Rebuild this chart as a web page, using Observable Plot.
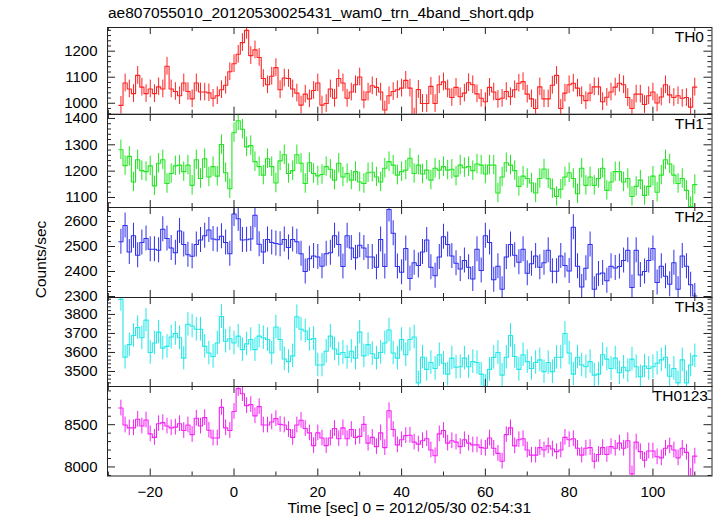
<!DOCTYPE html>
<html><head><meta charset="utf-8">
<script src="https://cdn.jsdelivr.net/npm/d3@7"></script>
<script src="https://cdn.jsdelivr.net/npm/@observablehq/plot@0.6"></script>
<style>
body{margin:0;background:#fff;font-family:"Liberation Sans",Arial,sans-serif;}
#wrap{position:relative;width:717px;height:516px;overflow:hidden;background:#fff;}
.txt{position:absolute;white-space:nowrap;color:#000;font-size:15.5px;line-height:15px;}
.panel{position:absolute;left:0;}
</style></head><body><div id="wrap"></div>
<script>
const title = "ae807055010_20120530025431_wam0_trn_4band_short.qdp";
const xLabel = "Time [sec] 0 = 2012/05/30 02:54:31";
const yLabel = "Counts/sec";
const bands = ["TH0", "TH1", "TH2", "TH3", "TH0123"];
const tStart = -27, binWidth = 1;

const th0 = [
992,1078,1055,1037,1107,1062,1037,1055,1037,1063,
1055,1142,1055,1045,1029,1078,1045,1017,1078,1043,
1043,1040,1019,1029,1052,1069,1121,1152,1188,1233,
1280,1183,1205,1176,1095,1071,1104,1137,1052,1097,
1095,1055,1039,993,1035,1017,1049,1078,993,999,
1055,1019,1095,1078,1019,1043,1071,1101,1013,1043,
1067,1061,1043,974,1029,1045,1052,1058,1088,1058,
947,1053,999,999,1065,999,1071,1082,1055,1022,
1061,1025,1039,1079,1071,1036,1019,1006,1061,1043,
1015,1019,1045,1025,1052,1077,1083,1035,1017,980,
1063,1017,1017,1069,1107,980,1039,1071,1077,1058,
1029,1010,1039,1063,1063,1006,1023,1043,1062,1077,
1071,1022,980,1035,1035,995,1029,1043,1001,1024,
1071,1032,1022,1029,1019,1022,985,1062];

const th1 = [
1281,1221,1256,1159,1243,1202,1198,1220,1144,1230,
1243,1153,1191,1220,1223,1198,1223,1146,1243,1172,
1247,1178,1217,1181,1301,1194,1133,1346,1391,1359,
1292,1297,1236,1217,1185,1247,1217,1155,1239,1262,
1191,1202,1262,1230,1153,1232,1191,1182,1187,1217,
1207,1166,1230,1178,1191,1166,1198,1159,1153,1194,
1196,1178,1159,1211,1236,1223,1185,1198,1204,1249,
1191,1223,1189,1204,1166,1211,1204,1217,1204,1207,
1181,1223,1213,1217,1202,1227,1223,1189,1223,1223,
1117,1178,1232,1223,1202,1142,1181,1172,1155,1117,
1172,1208,1171,1133,1104,1131,1178,1194,1172,1114,
1211,1146,1178,1146,1172,1211,1127,1159,1198,1198,
1159,1172,1104,1142,1166,1108,1142,1181,1120,1185,
1243,1227,1185,1153,1172,1127,1065,1149];

const th2 = [
2519,2584,2478,2543,2465,2516,2532,2489,2489,2485,
2569,2532,2494,2475,2562,2508,2467,2461,2508,2526,
2543,2566,2530,2527,2541,2516,2471,2630,2611,2526,
2527,2530,2625,2509,2478,2528,2516,2512,2509,2528,
2496,2528,2519,2471,2400,2451,2462,2458,2421,2471,
2475,2543,2508,2420,2543,2494,2455,2505,2494,2458,
2458,2417,2528,2420,2648,2553,2420,2397,2492,2372,
2435,2424,2478,2526,2417,2383,2458,2539,2508,2462,
2433,2410,2444,2417,2370,2489,2404,2543,2516,2367,
2421,2329,2458,2508,2465,2437,2489,2393,2431,2462,
2417,2435,2485,2401,2401,2462,2424,2402,2577,2421,
2338,2413,2508,2329,2390,2394,2363,2421,2414,2420,
2444,2485,2336,2485,2386,2400,2444,2492,2356,2421,
2381,2349,2435,2329,2462,2421,2347,2302];

const th3 = [
3879,3575,3641,3689,3731,3677,3770,3600,3650,3707,
3623,3632,3681,3700,3677,3570,3748,3739,3722,3722,
3632,3597,3579,3650,3789,3659,3672,3650,3686,3615,
3645,3668,3615,3686,3677,3668,3597,3734,3668,3566,
3552,3582,3788,3722,3713,3668,3673,3534,3534,3606,
3686,3618,3591,3600,3574,3606,3570,3707,3582,3641,
3593,3570,3600,3650,3718,3597,3570,3668,3588,3668,
3681,3440,3575,3511,3547,3516,3588,3543,3486,3570,
3522,3525,3570,3525,3552,3547,3486,3422,3511,3574,
3600,3481,3575,3689,3579,3511,3588,3552,3516,3547,
3561,3499,3547,3499,3575,3575,3700,3597,3486,3575,
3534,3525,3552,3481,3486,3588,3565,3516,3570,3493,
3522,3504,3565,3525,3472,3529,3516,3525,3543,3561,
3575,3475,3516,3440,3561,3440,3534,3582];

const th0123 = [
8697,8496,8463,8463,8564,8484,8556,8391,8350,8512,
8524,8484,8463,8471,8512,8431,8496,8383,8576,8484,
8584,8435,8342,8342,8705,8463,8431,8657,8927,8867,
8726,8738,8605,8714,8496,8496,8532,8572,8504,8496,
8443,8350,8496,8552,8455,8403,8253,8403,8342,8253,
8342,8455,8334,8463,8334,8443,8350,8362,8504,8282,
8350,8241,8403,8229,8665,8443,8261,8322,8371,8375,
8294,8270,8310,8334,8201,8132,8391,8431,8282,8310,
8294,8241,8322,8282,8261,8261,8229,8221,8342,8221,
8161,8068,8383,8463,8249,8322,8334,8201,8140,8140,
8229,8201,8249,8213,8181,8201,8350,8322,8334,8221,
8140,8221,8229,8068,8148,8229,8148,8241,8221,8282,
8221,8310,7918,8294,8181,8080,8189,8189,8120,8108,
8221,8249,8201,8108,8221,8173,7890,8128];

const series = [th0, th1, th2, th3, th0123];
const errors = [34, 37, 50, 62, 93];
const yDomains = [[958, 1291], [1062, 1415], [2296, 2656], [3421, 3889], [7893, 8952]];
const yMajorTicks = [[1000, 1100, 1200], [1100, 1200, 1300, 1400], [2300, 2400, 2500, 2600], [3500, 3600, 3700, 3800], [8000, 8500]];
const yMinorStep = [20, 20, 20, 20, 100];
const xDomain = [-30.2, 114.1];
const xMajorTicks = [-20, 0, 20, 40, 60, 80, 100];
const xMinorTicks = [-30, -10, 10, 30, 50, 70, 90, 110];

// layout / style
const colors = ["#ff2222", "#22e622", "#3030ee", "#22e8e8", "#f522f5"];
const panelTops = [27.3, 114, 207, 297, 386];
const panelBottoms = [114, 207, 297, 386, 475.5];
const labelDx = [-8, -8, -8, -8, -4];
const W = 717, mL = 107, mR = 5.5;
const plotW = W - mL - mR;
const fontFamily = "'Liberation Sans', Arial, Helvetica, sans-serif";
const fmt = d3.format("d");

const wrap = document.getElementById("wrap");

function addText(str, css) {
  const d = document.createElement("div");
  d.className = "txt";
  d.textContent = str;
  Object.assign(d.style, css);
  wrap.appendChild(d);
  return d;
}

series.forEach((vals, k) => {
  const rows = vals.map((v, i) => ({t: tStart + i * binWidth, v}));
  const steps = rows.flatMap(d => [{x: d.t - binWidth / 2, y: d.v}, {x: d.t + binWidth / 2, y: d.v}]);
  const last = k === series.length - 1;
  const ph = panelBottoms[k] - panelTops[k];
  const mT = 1, mB = last ? 40 : 1;
  const H = ph + mT + mB;
  const dom = yDomains[k];
  const major = yMajorTicks[k];
  const st = yMinorStep[k];
  const minor = d3.range(Math.ceil(dom[0] / st) * st, dom[1], st).filter(v => !major.includes(v));
  const err = errors[k];
  const c = colors[k];
  const plot = Plot.plot({
    width: W, height: H,
    marginLeft: mL, marginRight: mR, marginTop: mT, marginBottom: mB,
    style: {fontSize: "15px", fontFamily, background: "transparent", overflow: "visible", color: "#000"},
    x: {domain: xDomain, ticks: last ? xMajorTicks : [], tickSize: 0, tickPadding: 10, tickFormat: fmt, label: null, axis: last ? "bottom" : null},
    y: {domain: dom, ticks: major, tickSize: 0, tickPadding: 10, tickFormat: fmt, label: null, axis: "left"},
    marks: [
      Plot.ruleX(rows, {x: "t", y1: d => d.v - err, y2: d => d.v + err, stroke: c, strokeWidth: 1, clip: true}),
      Plot.line(steps, {x: "x", y: "y", stroke: c, strokeWidth: 1.1, clip: true}),
      Plot.tickY(major, {y: d => d, insetRight: plotW - 8, stroke: "#222"}),
      Plot.tickY(major, {y: d => d, insetLeft: plotW - 8, stroke: "#222"}),
      Plot.tickY(minor, {y: d => d, insetRight: plotW - 4, stroke: "#222"}),
      Plot.tickY(minor, {y: d => d, insetLeft: plotW - 4, stroke: "#222"}),
      Plot.tickX(xMajorTicks, {x: d => d, insetBottom: ph - 7, stroke: "#222"}),
      Plot.tickX(xMajorTicks, {x: d => d, insetTop: ph - 7, stroke: "#222"}),
      Plot.tickX(xMinorTicks, {x: d => d, insetBottom: ph - 4, stroke: "#222"}),
      Plot.tickX(xMinorTicks, {x: d => d, insetTop: ph - 4, stroke: "#222"}),
      Plot.frame({stroke: "#222", strokeWidth: 1}),
      Plot.text([bands[k]], {text: d => d, frameAnchor: "top-right", lineAnchor: "middle", dx: labelDx[k], dy: 10, fontSize: 15.5, fill: "#000"})
    ]
  });
  const holder = document.createElement("div");
  holder.className = "panel";
  holder.style.top = (panelTops[k] - mT) + "px";
  holder.appendChild(plot);
  wrap.appendChild(holder);
});

addText(title, {left: "108px", top: "5px"});
addText(xLabel, {left: ((mL + W - mR) / 2 - 200) + "px", width: "400px", textAlign: "center", top: "500px"});
addText(yLabel, {left: (40 - 60) + "px", width: "120px", textAlign: "center", top: (259 - 7.5) + "px", transform: "rotate(-90deg)"});
</script>
</body></html>
